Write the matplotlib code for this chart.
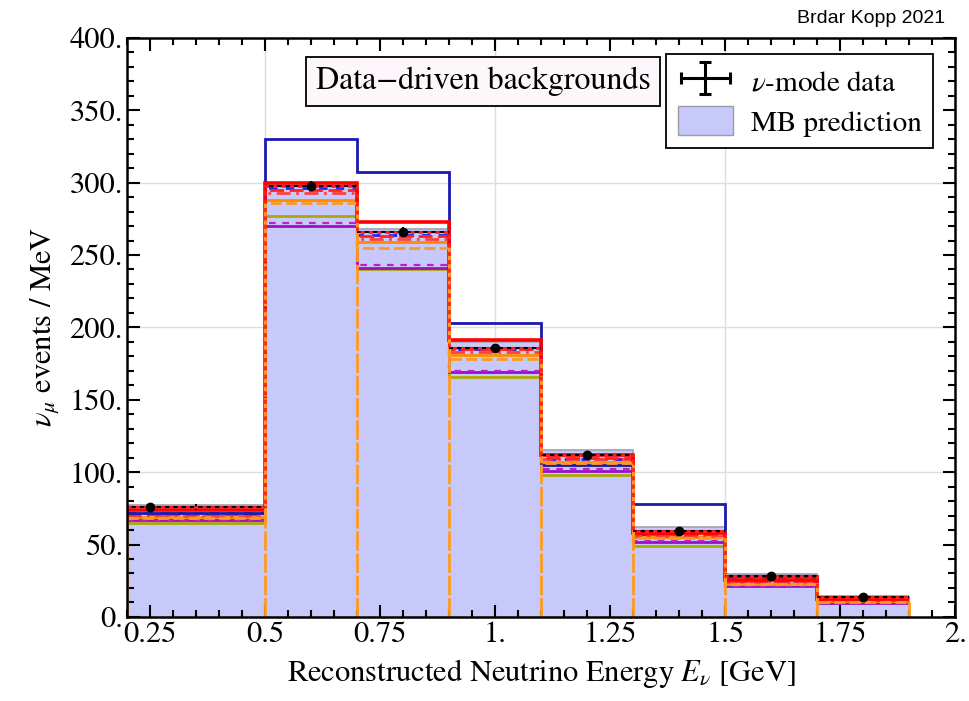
import matplotlib
matplotlib.use('Agg')
import matplotlib.pyplot as plt
from matplotlib.patches import Patch
from matplotlib.legend_handler import HandlerErrorbar
from matplotlib.ticker import MultipleLocator, FixedLocator

plt.rcParams['font.family'] = ['STIXGeneral', 'DejaVu Serif']
plt.rcParams['mathtext.fontset'] = 'stix'

# bin edges (GeV) and measured spectrum
edges = [0.2, 0.5, 0.7, 0.9, 1.1, 1.3, 1.5, 1.7, 1.9]
data_x = [0.25, 0.6, 0.8, 1.0, 1.2, 1.4, 1.6, 1.8]
data_y = [76, 298, 266, 186, 112, 59, 28, 14]
data_yerr = [2.0, 3.0, 3.0, 2.5, 2.0, 1.5, 1.0, 0.7]
mb_pred = [77, 300, 268, 190, 115, 62, 29.5, 14.5]

# model curves
blue_solid = [72, 330, 307, 203, 105, 78, 28.3, 13.8]
red_solid = [74, 300, 273, 191, 112, 58, 25.5, 12.5]
red_dashed = [71, 295, 263, 185, 110, 57, 24.5, 12]
red_dashdot = [70, 293, 261, 183, 109, 56, 24, 11.5]
blue_dashed = [72, 296, 264, 185, 109, 57, 26, 13]
orange_solid = [69, 288, 259, 181, 107, 55, 23, 11]
orange_dashed = [68, 286, 255, 178, 106, 54.5, 22.5, 10.5]
magenta_dashed = [66, 272, 243, 170, 102, 52.5, 21.5, 10]
purple_solid = [67, 270, 241, 169, 101, 52, 21, 9.8]
olive_solid = [65, 277, 240, 166, 98, 49, 22, 10.4]

ticks_x = [0.25, 0.5, 0.75, 1.0, 1.25, 1.5, 1.75, 2.0]
ticks_x_lab = ['0.25', '0.5', '0.75', '1.', '1.25', '1.5', '1.75', '2.']
ticks_y = [0, 50, 100, 150, 200, 250, 300, 350, 400]
ticks_y_lab = ['0.', '50.', '100.', '150.', '200.', '250.', '300.', '350.', '400.']

FS = 22

fig = plt.figure(figsize=(9.69, 7.01), dpi=100)
ax = fig.add_axes([0.131, 0.12, 0.855, 0.826])

widths = [edges[i + 1] - edges[i] for i in range(len(edges) - 1)]
centers = [edges[i] + w / 2 for i, w in enumerate(widths)]

# MB prediction, filled histogram
ax.stairs(mb_pred, edges, fill=True, color='#c6c9f9', zorder=1)
ax.stairs(mb_pred, edges, baseline=None, color='#a0a0b0', lw=1.2, zorder=2)

ax.stairs(olive_solid, edges, baseline=None, color='#aaaa00', lw=2, zorder=3)
ax.stairs(purple_solid, edges, baseline=None, color='#9a10c8', lw=2, zorder=3)
ax.stairs(magenta_dashed, edges, baseline=None, color='#c020c0', lw=1.6,
          ls=(0, (3, 3)), zorder=3)
ax.stairs(orange_solid, edges, baseline=None, color='#ff8c00', lw=2, zorder=3)
ax.stairs(blue_dashed, edges, baseline=None, color='#2020ff', lw=2,
          ls=(0, (3, 3)), zorder=4)
ax.stairs(red_dashdot, edges, baseline=None, color='#ff4040', lw=2,
          ls=(0, (5, 2, 1, 2)), zorder=4)
ax.stairs(red_dashed, edges, baseline=None, color='#ff2020', lw=2,
          ls=(0, (5, 2)), zorder=4)
ax.stairs(blue_solid, edges, baseline=None, color='#1a1ab0', lw=2, zorder=4)
ax.stairs(red_solid, edges, baseline=None, color='#ff0000', lw=2.6, zorder=5)

# orange dashed histogram, bin edges run down to zero
ax.stairs(orange_dashed, edges, baseline=None, color='#ff9a20', lw=2,
          ls=(0, (4, 1.5)), zorder=5.5)
edge_tops = [orange_dashed[0]] + \
    [max(orange_dashed[i - 1], orange_dashed[i]) for i in range(1, len(orange_dashed))] + \
    [orange_dashed[-1]]
ax.vlines(edges, 0, edge_tops, colors='#ff9a20', lw=2, linestyles=[(0, (7, 1))],
          zorder=5.5)

# data: horizontal bars over each bin, dotted red model on top
ax.errorbar(centers, data_y, xerr=[w / 2 for w in widths], yerr=data_yerr,
            fmt='none', ecolor='black', elinewidth=1.5, zorder=6)
ax.stairs(data_y, edges, baseline=None, color='#ff2020', lw=2,
          ls=(0, (1.5, 1.5)), zorder=7)
ax.plot(data_x, data_y, 'o', color='black', ms=6, zorder=8)

ax.set_xlim(0.2, 2.0)
ax.set_ylim(0, 400)
ax.xaxis.set_major_locator(FixedLocator(ticks_x))
ax.set_xticklabels(ticks_x_lab)
ax.xaxis.set_minor_locator(MultipleLocator(0.05))
ax.yaxis.set_major_locator(FixedLocator(ticks_y))
ax.set_yticklabels(ticks_y_lab)
ax.yaxis.set_minor_locator(MultipleLocator(10))
ax.tick_params(which='both', direction='in', top=True, right=True,
               labelsize=FS, width=1.5)
ax.tick_params(which='major', length=9, pad=3)
ax.tick_params(which='minor', length=5)
for s in ax.spines.values():
    s.set_linewidth(1.8)
    s.set_zorder(10)

for gx in [0.5, 1.0, 1.5]:
    ax.axvline(gx, color='#dddddd', lw=1, zorder=0)
for gy in [100, 200, 300]:
    ax.axhline(gy, color='#dddddd', lw=1, zorder=0)

ax.set_xlabel(r'Reconstructed Neutrino Energy $E_\nu$ [GeV]', fontsize=FS,
              labelpad=6)
ax.set_ylabel(r'$\nu_\mu$ events / MeV', fontsize=FS, labelpad=6)

ax.text(0.228, 0.925, 'Data\u2212driven backgrounds', transform=ax.transAxes,
        fontsize=FS + 1, va='center', ha='left',
        bbox=dict(boxstyle='square,pad=0.3', facecolor='#fdf7fc',
                  edgecolor='black', lw=1.3))

data_handle = ax.errorbar([-1], [-1], xerr=1, yerr=1, fmt='none',
                          ecolor='black', elinewidth=2.2, capsize=4,
                          capthick=2.2)
handles = [data_handle, Patch(facecolor='#c6c9f9', edgecolor='#9a9aa8')]
leg = ax.legend(handles, [r'$\nu$-mode data', 'MB prediction'],
                loc='upper right', bbox_to_anchor=(0.973, 0.972),
                borderaxespad=0, fontsize=FS - 1, fancybox=False,
                framealpha=1, edgecolor='black', handlelength=1.9,
                handleheight=1.15, borderpad=0.4, labelspacing=0.35,
                handletextpad=0.6,
                handler_map={type(data_handle):
                             HandlerErrorbar(xerr_size=0.85, yerr_size=0.55)})
leg.get_frame().set_linewidth(1.3)
leg.set_zorder(11)

fig.text(0.975, 0.962, 'Brdar Kopp 2021', family='Liberation Sans',
         fontsize=14, ha='right', va='bottom')

fig.savefig('out.png', dpi=100)
